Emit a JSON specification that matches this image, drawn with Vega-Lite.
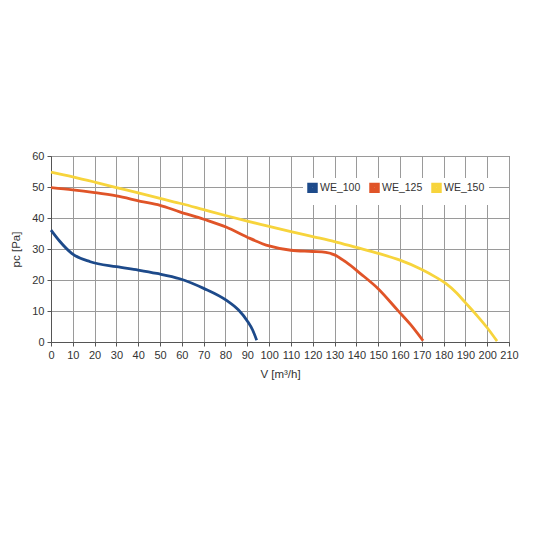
{
  "$schema": "https://vega.github.io/schema/vega-lite/v6.json",
  "autosize": "none",
  "padding": {"left": 51, "top": 156, "right": 27, "bottom": 194},
  "width": 458,
  "height": 186,
  "background": "white",
  "config": {
    "font": "Liberation Sans",
    "view": {"stroke": "#555", "strokeWidth": 1}
  },
  "data": {
    "values": [
      {"series": "WE_100", "v": 0, "p": 36.1},
      {"series": "WE_100", "v": 4, "p": 32.5},
      {"series": "WE_100", "v": 9.5, "p": 28.6},
      {"series": "WE_100", "v": 18, "p": 25.9},
      {"series": "WE_100", "v": 30, "p": 24.3},
      {"series": "WE_100", "v": 40, "p": 23.2},
      {"series": "WE_100", "v": 48.5, "p": 22.1},
      {"series": "WE_100", "v": 59, "p": 20.4},
      {"series": "WE_100", "v": 70, "p": 17.3},
      {"series": "WE_100", "v": 80.5, "p": 13.4},
      {"series": "WE_100", "v": 86, "p": 10.3},
      {"series": "WE_100", "v": 90, "p": 6.8},
      {"series": "WE_100", "v": 92.5, "p": 3.8},
      {"series": "WE_100", "v": 94.3, "p": 0.6},
      {"series": "WE_125", "v": 0, "p": 49.8},
      {"series": "WE_125", "v": 10, "p": 49.1},
      {"series": "WE_125", "v": 20, "p": 48.2},
      {"series": "WE_125", "v": 30, "p": 47.1},
      {"series": "WE_125", "v": 41, "p": 45.4},
      {"series": "WE_125", "v": 50, "p": 44.1},
      {"series": "WE_125", "v": 59, "p": 42},
      {"series": "WE_125", "v": 70, "p": 39.6},
      {"series": "WE_125", "v": 80.5, "p": 37},
      {"series": "WE_125", "v": 90, "p": 33.8},
      {"series": "WE_125", "v": 100, "p": 31},
      {"series": "WE_125", "v": 110, "p": 29.6},
      {"series": "WE_125", "v": 120, "p": 29.2},
      {"series": "WE_125", "v": 126, "p": 28.9},
      {"series": "WE_125", "v": 130, "p": 28.1},
      {"series": "WE_125", "v": 135, "p": 25.9},
      {"series": "WE_125", "v": 142, "p": 22},
      {"series": "WE_125", "v": 150, "p": 17.2},
      {"series": "WE_125", "v": 159, "p": 10.2},
      {"series": "WE_125", "v": 165, "p": 5.5},
      {"series": "WE_125", "v": 170.6, "p": 0.4},
      {"series": "WE_150", "v": 0, "p": 54.8},
      {"series": "WE_150", "v": 10, "p": 53.3},
      {"series": "WE_150", "v": 20, "p": 51.6},
      {"series": "WE_150", "v": 30, "p": 49.8},
      {"series": "WE_150", "v": 40, "p": 48.1},
      {"series": "WE_150", "v": 50, "p": 46.3},
      {"series": "WE_150", "v": 60, "p": 44.6},
      {"series": "WE_150", "v": 70, "p": 42.7},
      {"series": "WE_150", "v": 80, "p": 40.8},
      {"series": "WE_150", "v": 90, "p": 39},
      {"series": "WE_150", "v": 100, "p": 37.3},
      {"series": "WE_150", "v": 110, "p": 35.6},
      {"series": "WE_150", "v": 120, "p": 34},
      {"series": "WE_150", "v": 130, "p": 32.4},
      {"series": "WE_150", "v": 140, "p": 30.5},
      {"series": "WE_150", "v": 150, "p": 28.6},
      {"series": "WE_150", "v": 160, "p": 26.4},
      {"series": "WE_150", "v": 170, "p": 23.4},
      {"series": "WE_150", "v": 176, "p": 21.1},
      {"series": "WE_150", "v": 181, "p": 18.9},
      {"series": "WE_150", "v": 186, "p": 15.8},
      {"series": "WE_150", "v": 190, "p": 12.7},
      {"series": "WE_150", "v": 195, "p": 8.8},
      {"series": "WE_150", "v": 200, "p": 4.6},
      {"series": "WE_150", "v": 204.5, "p": 0.3}
    ]
  },
  "mark": {"type": "line", "interpolate": "monotone", "strokeWidth": 2.8},
  "encoding": {
    "x": {
      "field": "v",
      "type": "quantitative",
      "title": "V [m³/h]",
      "scale": {"domain": [0, 210], "nice": false},
      "axis": {
        "values": [0, 10, 20, 30, 40, 50, 60, 70, 80, 90, 100, 110, 120, 130, 140, 150, 160, 170, 180, 190, 200, 210],
        "labelOverlap": false,
        "labelFlush": false,
        "gridColor": "#9a9a9a",
        "gridOpacity": 1,
        "domainColor": "#555",
        "tickColor": "#555",
        "tickSize": 4,
        "labelFontSize": 11,
        "labelColor": "#333",
        "labelPadding": 3,
        "titleFontSize": 11.5,
        "titleFontWeight": "normal",
        "titleColor": "#333",
        "titlePadding": 8
      }
    },
    "y": {
      "field": "p",
      "type": "quantitative",
      "title": "pc [Pa]",
      "scale": {"domain": [0, 60], "nice": false},
      "axis": {
        "values": [0, 10, 20, 30, 40, 50, 60],
        "labelOverlap": false,
        "labelFlush": false,
        "gridColor": "#9a9a9a",
        "gridOpacity": 1,
        "domainColor": "#555",
        "tickColor": "#555",
        "tickSize": 4,
        "labelFontSize": 11,
        "labelColor": "#333",
        "labelPadding": 3,
        "titleFontSize": 11.5,
        "titleFontWeight": "normal",
        "titleColor": "#333",
        "titlePadding": 10
      }
    },
    "color": {
      "field": "series",
      "type": "nominal",
      "scale": {
        "domain": ["WE_100", "WE_125", "WE_150"],
        "range": ["#1d4a8a", "#e05428", "#f7d43c"]
      },
      "legend": {
        "title": null,
        "orient": "none",
        "legendX": 252,
        "legendY": 22,
        "direction": "horizontal",
        "symbolType": "square",
        "symbolSize": 30,
        "symbolStrokeWidth": 5,
        "labelFontSize": 10.5,
        "labelColor": "#333",
        "labelOffset": 2,
        "columnPadding": 0,
        "fillColor": "white",
        "padding": 4
      }
    }
  }
}
